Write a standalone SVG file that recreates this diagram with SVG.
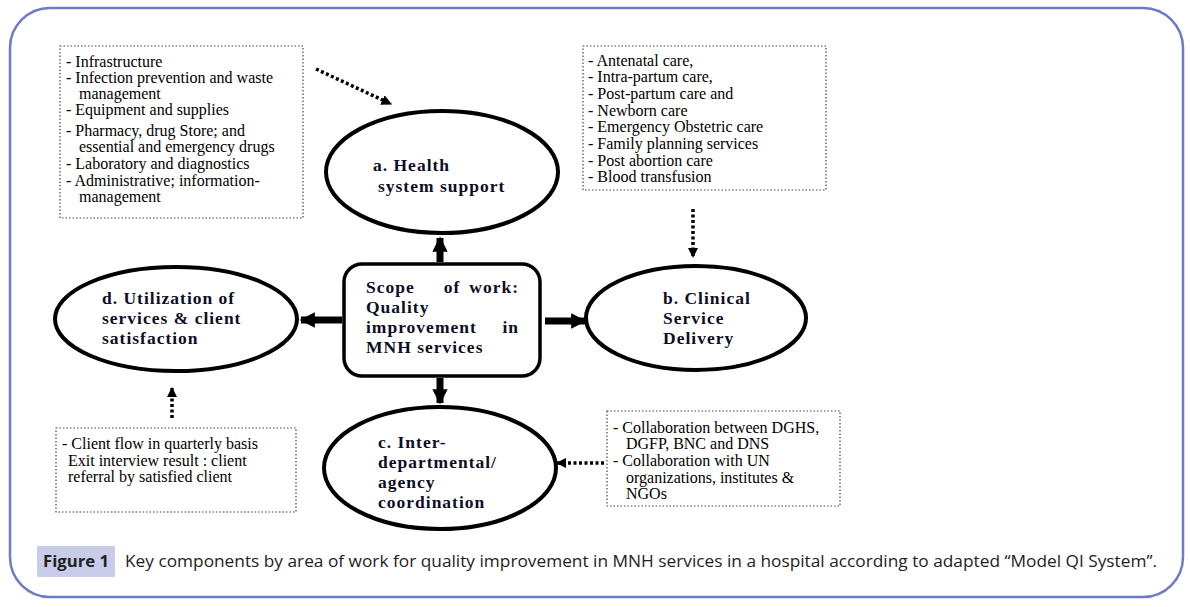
<svg xmlns="http://www.w3.org/2000/svg" width="1190" height="607" viewBox="0 0 1190 607">
<style>
.frame{fill:#fff;stroke:#6f7bc4;stroke-width:2.5}
.dbox{fill:#fff;stroke:#444;stroke-width:1.2;stroke-dasharray:1.5 2}
.ell{fill:#fff;stroke:#000;stroke-width:4}
.t{font-family:"Liberation Serif",serif;font-size:16px;fill:#000}
.b{font-family:"Liberation Serif",serif;font-size:17.5px;letter-spacing:1px;font-weight:bold;fill:#0d0d26}
.dot{stroke:#000;stroke-width:3.5;stroke-dasharray:3 2.5;fill:none}
.thick{stroke:#000;stroke-width:7;fill:none}
.cap{font-family:"Open Sans","Liberation Sans",sans-serif;font-size:16px;fill:#222}
</style>
<defs>
<marker id="ah" viewBox="0 0 10 10" refX="9" refY="5" markerWidth="3" markerHeight="3" orient="auto" markerUnits="strokeWidth"><path d="M0,0 L10,5 L0,10 z" fill="#000"/></marker>
<marker id="th" viewBox="0 0 10 10" refX="9" refY="5" markerWidth="2.2" markerHeight="2.2" orient="auto" markerUnits="strokeWidth"><path d="M0,0 L10,5 L0,10 z" fill="#000"/></marker>
</defs>
<rect class="frame" x="10" y="8" width="1173" height="589" rx="40"/>

<g id="connectors">
<line class="dot" x1="316" y1="69" x2="391" y2="104" marker-end="url(#ah)"/>
<line class="dot" x1="693" y1="209" x2="693" y2="257" marker-end="url(#ah)"/>
<line class="dot" x1="172" y1="418" x2="172" y2="388" marker-end="url(#ah)"/>
<line class="dot" x1="604" y1="463" x2="557" y2="463" marker-end="url(#ah)"/>
<line class="thick" x1="440" y1="262" x2="440" y2="238" marker-end="url(#th)"/>
<line class="thick" x1="440" y1="378" x2="440" y2="403" marker-end="url(#th)"/>
<line class="thick" x1="342" y1="320" x2="301" y2="320" marker-end="url(#th)"/>
<line class="thick" x1="545" y1="321" x2="585" y2="321" marker-end="url(#th)"/>
</g>

<g id="box-health-items">
<rect class="dbox" x="60" y="46" width="243" height="172"/>
<text class="t" x="66" y="67">- Infrastructure</text>
<text class="t" x="66" y="83">- Infection prevention and waste</text>
<text class="t" x="79" y="99">management</text>
<text class="t" x="66" y="115">- Equipment and supplies</text>
<text class="t" x="66" y="136">- Pharmacy, drug Store; and</text>
<text class="t" x="79" y="152">essential and emergency drugs</text>
<text class="t" x="66" y="169">- Laboratory and diagnostics</text>
<text class="t" x="66" y="186">- Administrative; information-</text>
<text class="t" x="79" y="202">management</text>
</g>

<g id="box-clinical-items">
<rect class="dbox" x="583" y="46" width="243" height="144"/>
<text class="t" x="588" y="66">- Antenatal care,</text>
<text class="t" x="588" y="82">- Intra-partum care,</text>
<text class="t" x="588" y="99">- Post-partum care and</text>
<text class="t" x="588" y="116">- Newborn care</text>
<text class="t" x="588" y="132">- Emergency Obstetric care</text>
<text class="t" x="588" y="149">- Family planning services</text>
<text class="t" x="588" y="166">- Post abortion care</text>
<text class="t" x="588" y="182">- Blood transfusion</text>
</g>

<g id="box-utilization-items">
<rect class="dbox" x="56" y="428" width="240" height="84"/>
<text class="t" x="62" y="449">- Client flow in quarterly basis</text>
<text class="t" x="68" y="466">Exit interview result : client</text>
<text class="t" x="68" y="482">referral by satisfied client</text>
</g>

<g id="box-coordination-items">
<rect class="dbox" x="607" y="411" width="233" height="95"/>
<text class="t" x="613" y="433">- Collaboration between DGHS,</text>
<text class="t" x="626" y="449">DGFP, BNC and DNS</text>
<text class="t" x="613" y="466">- Collaboration with UN</text>
<text class="t" x="626" y="483">organizations, institutes &amp;</text>
<text class="t" x="626" y="499">NGOs</text>
</g>

<g id="node-a">
<ellipse class="ell" cx="442" cy="172" rx="116" ry="61"/>
<text class="b" x="373" y="171">a. Health</text>
<text class="b" x="378" y="192">system support</text>
</g>

<g id="node-b">
<ellipse class="ell" cx="696" cy="318" rx="110" ry="52"/>
<text class="b" x="663" y="304">b. Clinical</text>
<text class="b" x="663" y="324">Service</text>
<text class="b" x="663" y="344">Delivery</text>
</g>

<g id="node-c">
<ellipse class="ell" cx="440" cy="468" rx="116" ry="61"/>
<text class="b" x="378" y="448">c. Inter-</text>
<text class="b" x="378" y="468">departmental/</text>
<text class="b" x="378" y="488">agency</text>
<text class="b" x="378" y="508">coordination</text>
</g>

<g id="node-d">
<ellipse class="ell" cx="176" cy="319" rx="121" ry="52"/>
<text class="b" x="102" y="304">d. Utilization of</text>
<text class="b" x="102" y="324">services &amp; client</text>
<text class="b" x="102" y="344">satisfaction</text>
</g>

<g id="node-scope">
<rect x="344" y="264" width="196" height="112" rx="18" fill="#fff" stroke="#000" stroke-width="3.5"/>
<text class="b" x="366" y="293">Scope</text>
<text class="b" x="452" y="293" text-anchor="middle">of</text>
<text class="b" x="519" y="293" text-anchor="end">work:</text>
<text class="b" x="366" y="313">Quality</text>
<text class="b" x="366" y="333">improvement</text>
<text class="b" x="519" y="333" text-anchor="end">in</text>
<text class="b" x="366" y="353">MNH services</text>
</g>

<g id="caption">
<rect x="37" y="546" width="78" height="31" fill="#c9cce9"/>
<text class="cap" x="43" y="567" font-weight="bold" textLength="66" lengthAdjust="spacingAndGlyphs">Figure 1</text>
<text class="cap" x="125" y="567" textLength="1032" lengthAdjust="spacingAndGlyphs">Key components by area of work for quality improvement in MNH services in a hospital according to adapted “Model QI System”.</text>
</g>
</svg>
